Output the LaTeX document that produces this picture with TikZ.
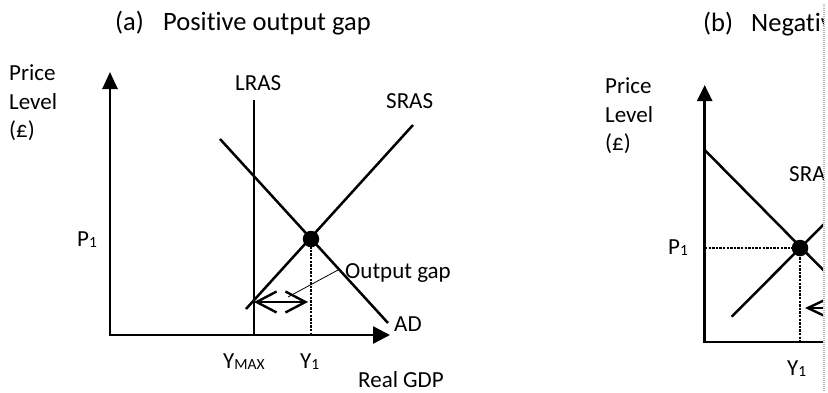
\documentclass[tikz,border=0pt]{standalone}
\usepackage{fontspec}
\setmainfont[Ligatures=NoCommon]{Carlito}
\usetikzlibrary{arrows.meta}
\newcommand{\sbtxt}[1]{\raisebox{-1.5pt}{\fontsize{15.5}{16}\selectfont #1}}
\begin{document}
\begin{tikzpicture}[x=1pt,y=-1pt,
  lbl/.style={font=\fontsize{23}{28}\selectfont, anchor=base west, inner sep=0pt},
  ttl/.style={font=\fontsize{26.5}{32}\selectfont, anchor=base west, inner sep=0pt},
  axisline/.style={line width=2.6pt, line join=miter, {Triangle[length=17pt,width=15pt]}-{Triangle[length=17pt,width=17pt]}},
  curve/.style={line width=2.5pt},
  lrasline/.style={line width=1.8pt},
  dotline/.style={line width=2pt, dash pattern=on 2.4pt off 1.2pt},
  gaparrow/.style={line width=2.4pt, {Straight Barb[length=20pt,width=21pt]}-{Straight Barb[length=20pt,width=21pt]}},
  leftarrow/.style={line width=2.4pt, -{Straight Barb[length=19pt,width=18pt]}},
  leader/.style={line width=0.8pt},
  eqdot/.style={circle, fill=black, inner sep=0pt, minimum size=16.5pt},
  border/.style={line width=2pt, gray!55, dash pattern=on 1pt off 1pt}]
\useasboundingbox (0,0) rectangle (828,392);

% ================= Panel (a) =================
\node[ttl] (titleAa) at (115,30) {(a)};
\node[ttl] (titleAb) at (163,30) {Positive output gap};
\node[lbl] (priceA) at (9,80) {Price};
\node[lbl] (levelA) at (9,109) {Level};
\node[lbl] (poundA) at (9,137) {(£)};

\coordinate (yTipA) at (110,72);
\coordinate (oA) at (110,335);
\coordinate (xTipA) at (390,335);
\draw[axisline] (yTipA) -- (oA) -- (xTipA);

\coordinate (lrasTopA) at (254,100);
\coordinate (lrasBotA) at (254,335);
\draw[lrasline] (lrasTopA) -- (lrasBotA);
\node[lbl] (lrasLblA) at (235,90) {LRAS};

\coordinate (srasA1) at (246,309);
\coordinate (srasA2) at (413,125);
\draw[curve] (srasA1) -- (srasA2);
\node[lbl] (srasLblA) at (386,108) {SRAS};

\coordinate (adA1) at (220,139);
\coordinate (adA2) at (388,323);
\draw[curve] (adA1) -- (adA2);
\node[lbl] (adLblA) at (394,331) {AD};

\coordinate (y1BaseA) at (311,335);
\coordinate (dotPtA) at (311,239);
\draw[dotline] (dotPtA) -- (y1BaseA);
\node[eqdot] (dotA) at (dotPtA) {};

\coordinate (gapL) at (254,302);
\coordinate (gapR) at (308,302);
\draw[gaparrow] (gapL) -- (gapR);

\coordinate (leadA1) at (338,270);
\coordinate (leadA2) at (288,297);
\draw[leader] (leadA1) -- (leadA2);
\node[lbl] (gapLblA) at (345,278) {Output gap};

\node[lbl] (p1A) at (77,246) {P\sbtxt{1}};
\node[lbl] (ymaxA) at (223,368) {Y\sbtxt{MAX}};
\node[lbl] (y1A) at (300,368) {Y\sbtxt{1}};
\node[lbl] (gdpA) at (358,387) {Real GDP};

% ================= Panel (b) =================
\begin{scope}
\clip (590,0) rectangle (823,392);
\node[ttl] (titleBa) at (703,31) {(b)};
\node[ttl] (titleBb) at (751,31) {Negative output gap};
\node[lbl] (priceB) at (605,93) {Price};
\node[lbl] (levelB) at (605,122) {Level};
\node[lbl] (poundB) at (605,150) {(£)};

\coordinate (yTipB) at (704.7,85);
\coordinate (oB) at (704.7,342);
\coordinate (xEndB) at (860,342);
\draw[line width=2.6pt, line join=miter, {Triangle[length=16pt,width=15pt]}-] (yTipB) -- (oB) -- (xEndB);

\coordinate (adB1) at (704.7,150);
\coordinate (adB2) at (850,297);
\draw[curve] (adB1) -- (adB2);

\coordinate (srasB1) at (731.7,316.7);
\coordinate (srasB2) at (840,208);
\draw[curve] (srasB1) -- (srasB2);
\node[lbl] (srasLblB) at (789,181) {SRAS};

\coordinate (dotPtB) at (800,248);
\coordinate (p1LineB) at (705,248);
\coordinate (y1BaseB) at (800,342);
\draw[dotline] (p1LineB) -- (dotPtB) -- (y1BaseB);
\node[eqdot] (dotB) at (dotPtB) {};

\coordinate (gapBR) at (860,308);
\coordinate (gapBL) at (805,308);
\draw[leftarrow] (gapBR) -- (gapBL);

\node[lbl] (p1B) at (668,254) {P\sbtxt{1}};
\node[lbl] (y1B) at (787,375) {Y\sbtxt{1}};
\end{scope}

\coordinate (borderTop) at (824,4);
\coordinate (borderBot) at (824,392);
\draw[border] (borderTop) -- (borderBot);
\end{tikzpicture}
\end{document}
